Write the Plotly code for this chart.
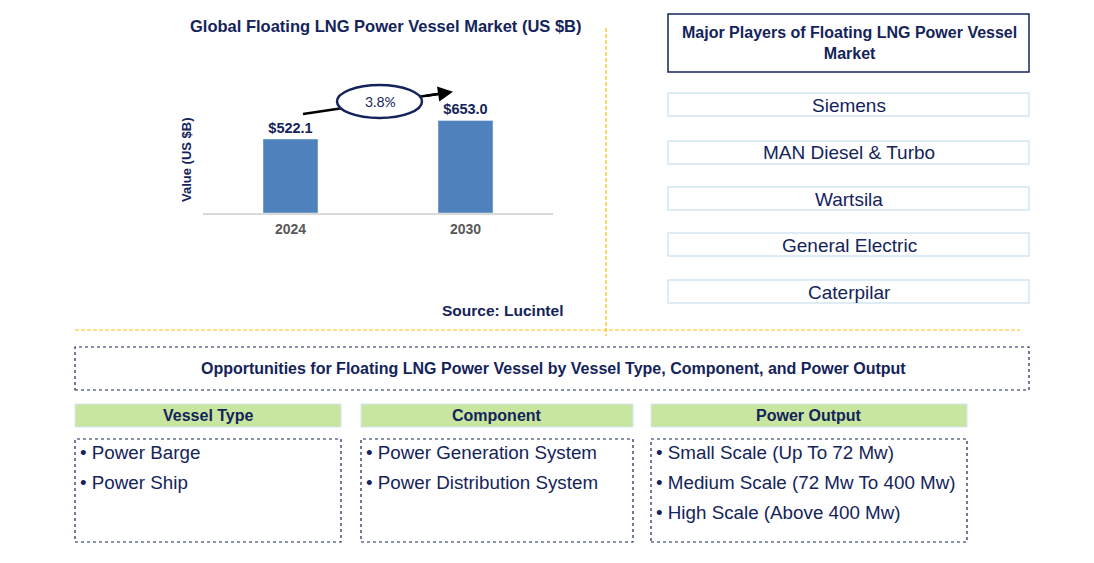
import plotly.graph_objects as go

W, H = 1094, 563
years = ["2024", "2030"]
values = [522.1, 653.0]
value_labels = ["$522.1", "$653.0"]
cagr = "3.8%"
chart_title = "Global Floating LNG Power Vessel Market (US $B)"
y_title = "Value (US $B)"
source = "Source: Lucintel"
players_title = "Major Players of Floating LNG Power Vessel<br>Market"
players = ["Siemens", "MAN Diesel & Turbo", "Wartsila", "General Electric", "Caterpilar"]
opp_title = "Opportunities for Floating LNG Power Vessel by Vessel Type, Component, and Power Output"
seg_titles = ["Vessel Type", "Component", "Power Output"]
seg_items = [
    ["Power Barge", "Power Ship"],
    ["Power Generation System", "Power Distribution System"],
    ["Small Scale (Up To 72 Mw)", "Medium Scale (72 Mw To 400 Mw)", "High Scale (Above 400 Mw)"],
]

NAVY = "#14245A"
BAR = "#4F81BD"
GOLD = "#FFC000"
LBLUE = "#D3E6F2"
GREEN = "#C8E6A0"
FONT = "Arial, Liberation Sans, sans-serif"
OFF = 8  # page body margin


def px(x):
    return (x - OFF) / W


def py(y):
    return 1 - (y - OFF) / H


def note(x, y, text, size, bold=False, xanchor="center", family=FONT, color=NAVY, **kw):
    f = dict(size=size, color=color, family=family)
    if bold:
        f["weight"] = "bold"
    d = dict(x=px(x), y=py(y), xref="paper", yref="paper", text=text, showarrow=False,
             xanchor=xanchor, yanchor="middle", font=f)
    d.update(kw)
    return d


fig = go.Figure()
fig.add_trace(go.Bar(
    x=years, y=values, marker_color=BAR, width=0.314,
    text=value_labels, textposition="outside", cliponaxis=False,
    textfont=dict(size=14.5, color=NAVY, family=FONT, weight="bold"),
    hoverinfo="skip",
))

shapes = []
annotations = []

annotations.append(note(386, 26, chart_title, 16.5, bold=True))
annotations.append(note(187, 160, y_title, 13, bold=True, textangle=-90))
annotations.append(note(502, 310, source, 15.5, bold=True))

# CAGR arrow line, ellipse and arrowhead
shapes.append(dict(type="line", xref="paper", yref="paper", x0=px(303), y0=py(114), x1=px(448), y1=py(92.6),
                   line=dict(color="black", width=2.5), layer="above"))
shapes.append(dict(type="circle", xref="paper", yref="paper", x0=px(337), x1=px(422), y0=py(118), y1=py(85),
                   line=dict(color=NAVY, width=2.5), fillcolor="white", layer="above"))
annotations.append(dict(x=px(453), y=py(91.8), ax=425 - 453, ay=96.0 - 91.8, xref="paper", yref="paper",
                        axref="pixel", ayref="pixel", text="", showarrow=True, arrowhead=2,
                        arrowsize=1.2, arrowwidth=2.5, arrowcolor="black"))
annotations.append(note(380, 101, cagr, 14, family="Lato, Open Sans, sans-serif"))

# Divider lines
DASH = "4px,2px"
shapes.append(dict(type="line", xref="paper", yref="paper", x0=px(606), x1=px(606), y0=py(28), y1=py(336),
                   line=dict(color=GOLD, width=1.2, dash=DASH)))
shapes.append(dict(type="line", xref="paper", yref="paper", x0=px(75), x1=px(1020), y0=py(330), y1=py(330),
                   line=dict(color=GOLD, width=1.2, dash=DASH)))

# Players
shapes.append(dict(type="rect", xref="paper", yref="paper", x0=px(668), x1=px(1029), y0=py(72), y1=py(14),
                   line=dict(color=NAVY, width=1.5)))
annotations.append(note(849, 43, players_title, 16, bold=True))
player_tops = [93, 141, 187, 233, 280]
for name, top in zip(players, player_tops):
    shapes.append(dict(type="rect", xref="paper", yref="paper", x0=px(668), x1=px(1029), y0=py(top + 23), y1=py(top),
                       line=dict(color=LBLUE, width=1.5)))
    annotations.append(note(849, top + 12, name, 19))

# Opportunities
shapes.append(dict(type="rect", xref="paper", yref="paper", x0=px(75), x1=px(1029), y0=py(390), y1=py(347),
                   line=dict(color=NAVY, width=1.2, dash="dot")))
annotations.append(note(553, 368, opp_title, 16, bold=True))

seg_x = [(75, 341), (361, 633), (651, 967)]
for (x0, x1), title, items in zip(seg_x, seg_titles, seg_items):
    shapes.append(dict(type="rect", xref="paper", yref="paper", x0=px(x0), x1=px(x1), y0=py(427), y1=py(404),
                       fillcolor=GREEN, line=dict(color=LBLUE, width=1)))
    annotations.append(note((x0 + x1) / 2, 415.5, title, 16, bold=True))
    shapes.append(dict(type="rect", xref="paper", yref="paper", x0=px(x0), x1=px(x1), y0=py(542), y1=py(439),
                       line=dict(color=NAVY, width=1.2, dash="dot")))
    for i, it in enumerate(items):
        annotations.append(note(x0 + 3, 452.5 + 30 * i, "• " + it, 18.8, xanchor="left"))

fig.update_layout(
    width=W, height=H, margin=dict(l=0, r=0, t=0, b=0),
    paper_bgcolor="white", plot_bgcolor="white", showlegend=False,
    xaxis=dict(domain=[px(203), px(553)], showline=True, linecolor="#D9D9D9", linewidth=1.5,
               tickfont=dict(size=14, color="#595959", family=FONT, weight="bold"), ticks="outside",
               ticklen=2, tickcolor="white",
               fixedrange=True),
    yaxis=dict(domain=[py(213), py(60)], range=[0, 1080], visible=False, fixedrange=True),
    shapes=shapes, annotations=annotations,
)
fig.write_html("out.html")
